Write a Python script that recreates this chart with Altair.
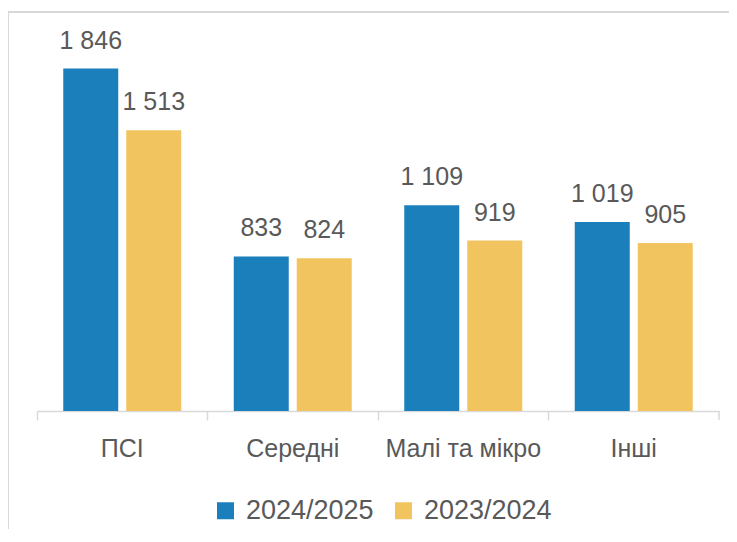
import altair as alt
import pandas as pd

categories = ["ПСІ", "Середні", "Малі та мікро", "Інші"]
series = ["2024/2025", "2023/2024"]
values_2024_2025 = [1846, 833, 1109, 1019]
values_2023_2024 = [1513, 824, 919, 905]
colors = ["#1B7FBC", "#F2C45F"]

rows = []
for c, a, b in zip(categories, values_2024_2025, values_2023_2024):
    rows.append({"cat": c, "series": series[0], "value": a})
    rows.append({"cat": c, "series": series[1], "value": b})
df = pd.DataFrame(rows)
df["label"] = df["value"].map(lambda v: f"{v:,}".replace(",", " "))

W, H = 682, 371
FONT = "Liberation Sans"
GRAY = "#595959"
LINE = "#D9D9D9"

x_axis = alt.Axis(title=None, labelAngle=0, bandPosition=0, tickSize=9,
                  domainColor=LINE, tickColor=LINE, domainWidth=1.5, tickWidth=1.5,
                  labelFontSize=25, labelColor=GRAY, labelPadding=16, labelFont=FONT,
                  grid=False)
x_scale = alt.Scale(paddingInner=0, paddingOuter=0)
x = alt.X("cat:N", sort=categories, scale=x_scale, axis=x_axis)
xoff = alt.XOffset("series:N", sort=series,
                   scale=alt.Scale(paddingInner=8 / 63, paddingOuter=26.25 / 63))
y = alt.Y("value:Q", scale=alt.Scale(domain=[0, 2000], nice=False), axis=None)

bars = alt.Chart(df).mark_bar().encode(
    x=x, xOffset=xoff, y=y,
    color=alt.Color("series:N", sort=series,
                    scale=alt.Scale(domain=series, range=colors),
                    legend=alt.Legend(orient="none", legendX=175, legendY=457,
                                      direction="horizontal", title=None,
                                      symbolType="square", symbolSize=289,
                                      symbolStrokeWidth=0, labelFontSize=27,
                                      labelColor=GRAY, labelFont=FONT, labelLimit=300,
                                      labelOffset=7, columnPadding=16, padding=0)),
)

labels = alt.Chart(df).mark_text(dy=-20, baseline="alphabetic", fontSize=25,
                                 color=GRAY, font=FONT).encode(
    x=x, xOffset=xoff, y=y, text="label:N"
)

end_tick = alt.Chart(pd.DataFrame({"cat": [categories[-1]]})).mark_rule(
    color=LINE, strokeWidth=1.5).encode(
    x=alt.X("cat:N", sort=categories, bandPosition=1, scale=x_scale, axis=x_axis),
    y=alt.value(H), y2=alt.value(H + 9),
)

one = pd.DataFrame({"a": [0]})
frame_left = alt.Chart(one).mark_rule(color=LINE, strokeWidth=2).encode(
    x=alt.value(-29), y=alt.value(-28), y2=alt.value(H + 130))
frame_top = alt.Chart(one).mark_rule(color=LINE, strokeWidth=2).encode(
    x=alt.value(-29), x2=alt.value(W + 20), y=alt.value(-28))

chart = alt.layer(frame_left, frame_top, bars, labels, end_tick).properties(
    width=W, height=H,
    padding={"left": 29, "top": 32, "right": 10, "bottom": 118},
    autosize=alt.AutoSizeParams(type="none"),
).configure(font=FONT).configure_view(stroke=None, strokeWidth=0)

chart.save("out.html", embed_options={"renderer": "svg", "actions": False})
